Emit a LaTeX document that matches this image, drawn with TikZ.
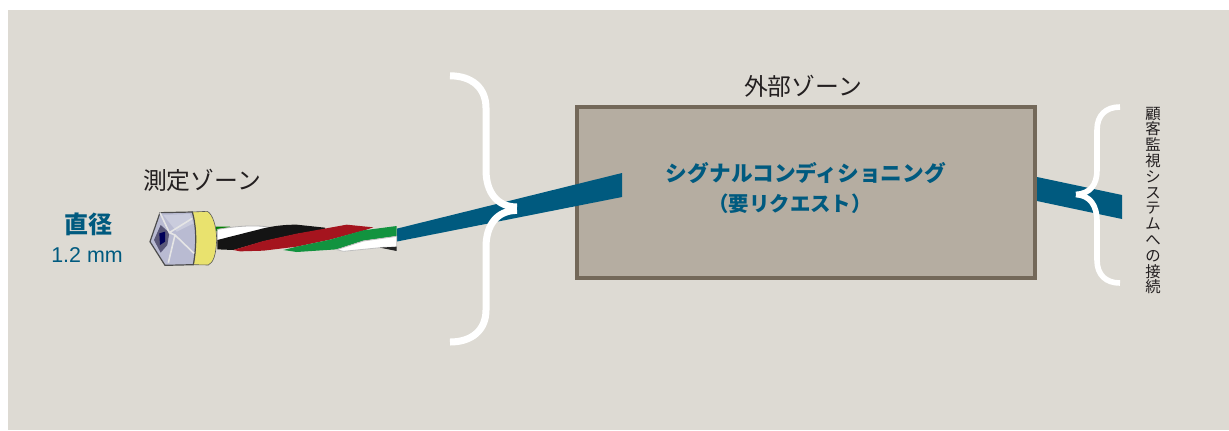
\documentclass[tikz,border=0pt]{standalone}
\usepackage{fontspec}
\setmainfont{Noto Sans CJK JP}
\newfontfamily\latinf{Liberation Sans}
\definecolor{bgc}{HTML}{DDDAD3}
\definecolor{boxfill}{HTML}{B5ADA1}
\definecolor{boxline}{HTML}{736859}
\definecolor{teal}{HTML}{005A7F}
\definecolor{txt}{HTML}{231F20}
\definecolor{headc}{HTML}{B9BBD2}
\definecolor{headd}{HTML}{5A5878}
\definecolor{collar}{HTML}{E9E26E}
\definecolor{wred}{HTML}{A5141E}
\definecolor{wgreen}{HTML}{12933F}
\tikzset{
  lbl/.style={inner sep=0pt,text=txt,font=\fontsize{11.9}{13}\selectfont},
  bluelbl/.style={inner sep=0pt,text=teal,font=\fontsize{10.85}{13}\selectfont\bfseries},
  bracestroke/.style={draw=white,line join=round,fill=none},
  bar/.style={fill=teal,draw=none}
}
\begin{document}
\begin{tikzpicture}[x=0.5pt,y=-0.5pt]
\useasboundingbox (0,0) rectangle (1229,430);
\fill[white] (0,0) rectangle (1229,430);
\fill[bgc] (8,10) rectangle (1229,430);
% box
\node[draw=boxline,fill=boxfill,line width=2pt,minimum width=229pt,minimum height=85.5pt,inner sep=0pt,anchor=north west] (box) at (575,105) {};
% bars
\fill[bar] (397,228.6) -- (622,173) -- (622,197) -- (397,241.5) -- cycle;
\fill[bar] (1037,177) -- (1122,195) -- (1122,219) -- (1037,201) -- cycle;
% braces
\draw[bracestroke,line width=3.5pt] (450,75.8) .. controls (472,75.8) and (486,88) .. (486,108)
  -- (486,170) .. controls (486,192) and (497,207) .. (517,207);
\draw[bracestroke,line width=3.5pt] (517,210.4) .. controls (497,210.4) and (486,225) .. (486,247)
  -- (486,310) .. controls (486,330) and (472,342) .. (450,342);
\draw[bracestroke,line width=2.8pt] (1120,107) .. controls (1106,107) and (1097,115) .. (1097,130)
  -- (1097,170) .. controls (1097,185) and (1090,193.5) .. (1076,194.5);
\draw[bracestroke,line width=2.8pt] (1076,194.5) .. controls (1090,195.5) and (1097,205) .. (1097,222)
  -- (1097,260) .. controls (1097,275) and (1106,283) .. (1120,283);
% sensor (coordinates as in a 3x enlargement)
\begin{scope}[shift={(130,190)},scale=1/3]
 % cable
 \fill[green!50!black] (258,110) -- (300,110) -- (300,120) -- (258,124) -- cycle;
 \fill[white,draw=gray!60,line width=0.4pt] (262,118) .. controls (320,108) and (380,104) .. (420,112) -- (420,122) .. controls (370,130) and (310,142) .. (262,152) -- cycle;
 \fill[black!92] (262,150) -- (400,115) .. controls (440,106) and (470,104) .. (500,104) -- (585,113) -- (585,118) -- (500,132) -- (400,154) -- (310,180) -- (262,178) -- cycle;
 \fill[wred] (310,180) -- (400,153) -- (500,131) -- (600,113) -- (650,104) -- (730,112) -- (700,122) -- (600,149) -- (500,170) -- (400,182) -- (330,184) -- cycle;
 \fill[wgreen] (460,180) -- (500,170) -- (600,149) -- (700,121) -- (800,108) -- (800,138) -- (700,152) -- (620,178) -- (500,186) -- cycle;
 \fill[white,draw=gray!50,line width=0.4pt] (620,179) -- (700,153) -- (800,139) -- (800,172) -- (760,172) -- (640,184) -- cycle;
 \fill[black!85] (750,173) -- (800,170) -- (800,183) -- cycle;
 % collar
 \fill[collar,draw=gray!70!black,line width=0.3pt] (185,66) -- (232,64) .. controls (248,72) and (260,110) .. (260,150) .. controls (258,195) and (250,218) .. (235,225) -- (190,224) .. controls (198,180) and (202,120) .. (185,66) -- cycle;
 % head
 \fill[headc,draw=gray!60!black,line width=0.6pt] (60,155) -- (90,68) -- (187,66) .. controls (202,120) and (198,180) .. (190,224) -- (105,226) -- cycle;
 \fill[headd] (72,150) -- (92,105) -- (118,128) -- (112,165) -- (92,188) -- cycle;
 \fill[black!65!blue] (88,130) -- (105,125) -- (105,155) -- (90,165) -- cycle;
 \fill[headc!75!white] (100,75) -- (180,72) -- (190,100) -- (140,125) -- cycle;
 \draw[white!80!gray,line width=0.8pt] (90,68) -- (118,128) -- (187,85) (118,128) -- (135,135) -- (192,190) (135,135) -- (115,218);
\end{scope}
% labels
\node[lbl] (zoneM) at (202,180) {測定ゾーン};
\node[lbl] (zoneE) at (803,86) {外部ゾーン};
\node[inner sep=0pt,text=teal,font=\fontsize{12}{14}\selectfont\bfseries] (dia) at (88.5,224) {直径};
\node[inner sep=0pt,text=teal,font=\latinf\fontsize{10.7}{12}\selectfont] (dim) at (87,255) {1.2 mm};
\node[bluelbl] (sc1) at (806,173) {シグナルコンディショニング};
\node[bluelbl,font=\fontsize{10.2}{13}\selectfont\bfseries] (sc2) at (790,204) {（要リクエスト）};
\node[inner sep=0pt,text=txt,align=center,font=\fontsize{7.7}{7.9}\selectfont,anchor=north] (vert) at (1153,106.5) {顧\\客\\監\\視\\シ\\ス\\テ\\ム\\へ\\の\\接\\続};
\end{tikzpicture}
\end{document}
